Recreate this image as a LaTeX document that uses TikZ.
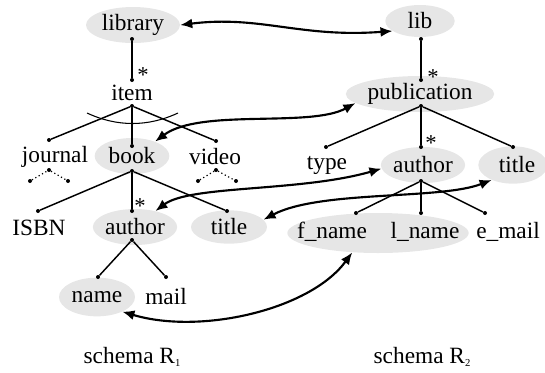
\documentclass[tikz,border=0pt]{standalone}
\usepackage{fontspec}
\setmainfont{Liberation Serif}
\usetikzlibrary{shapes.geometric,arrows.meta}
\definecolor{ovalgray}{RGB}{230,230,230}
\begin{document}
\begin{tikzpicture}[x=0.75pt,y=-0.75pt,
  lbl/.style={font=\fontsize{17.5}{17.5}\selectfont, inner sep=0pt},
  oval/.style={lbl, ellipse, fill=ovalgray},
  star/.style={font=\fontsize{17}{17}\selectfont, inner sep=0pt, anchor=center},
  dot/.style={circle, fill=black, inner sep=0pt, minimum size=3pt},
  tree/.style={line width=1.1pt},
  hint/.style={line width=0.9pt, dotted},
  link/.style={{Latex[length=9pt,width=7.5pt]}-{Latex[length=9pt,width=7.5pt]}, line width=1.6pt}]
\useasboundingbox (0,0) rectangle (545,372);

% ---------- schema R1 ----------
\node[oval, minimum width=70.5pt, minimum height=27pt] (library) at (133,25) {library};
\node[lbl] (item) at (132,93) {item};
\node[lbl] (journal) at (55,157) {journal};
\node[oval, minimum width=56pt, minimum height=27pt] (book) at (132,156) {book};
\node[lbl] (video) at (215,157) {video};
\node[lbl] (isbn) at (39,228) {ISBN};
\node[oval, minimum width=60pt, minimum height=27pt] (authorA) at (135,227) {author};
\node[oval, minimum width=57pt, minimum height=25pt] (titleA) at (229,227) {title};
\node[oval, minimum width=57pt, minimum height=29pt] (name) at (97,297) {name};
\node[lbl] (mail) at (166,297) {mail};
\node[lbl] (schemaA) at (132,357) {schema R\raisebox{-0.35ex}{\fontsize{8}{8}\selectfont 1}};

% ---------- schema R2 ----------
\node[oval, minimum width=52pt, minimum height=24pt] (lib) at (420,21) {lib};
\node[oval, minimum width=100pt, minimum height=27pt] (publication) at (420,94) {publication};
\node[lbl] (type) at (327,165) {type};
\node[oval, minimum width=60pt, minimum height=27pt] (authorB) at (423,165) {author};
\node[oval, minimum width=52pt, minimum height=28pt] (titleB) at (513,165) {\hspace*{6pt}title};
\node[oval, minimum width=136pt, minimum height=30pt] (fl) at (378,233) {};
\node[lbl] (fname) at (332,232) {f\_name};
\node[lbl] (lname) at (425,232) {l\_name};
\node[lbl] (email) at (508,232) {e\_mail};
\node[lbl] (schemaB) at (422,357) {schema R\raisebox{-0.35ex}{\fontsize{8}{8}\selectfont 2}};

% ---------- tree dots R1 ----------
\node[dot] (dLib) at (132,39) {};
\node[dot] (dItemTop) at (132,80) {};
\node[dot] (dItem) at (132,106) {};
\node[dot] (dJournal) at (49,140) {};
\node[dot] (dBookTop) at (132,146) {};
\node[dot] (dVideo) at (216,141) {};
\node[dot] (dBook) at (132,171) {};
\node[dot] (dIsbn) at (38,211) {};
\node[dot] (dAuthorTop) at (132,211) {};
\node[dot] (dTitle) at (227,211) {};
\node[dot] (dAuthor) at (132,240) {};
\node[dot] (dName) at (98,277) {};
\node[dot] (dMail) at (166,277) {};
\node[dot] (j1) at (30,181) {};
\node[dot] (j2) at (49,170) {};
\node[dot] (j3) at (68,181) {};
\node[dot] (v1) at (198,181) {};
\node[dot] (v2) at (216,170) {};
\node[dot] (v3) at (236,181) {};

\draw[tree] (dLib) -- (dItemTop);
\draw[tree] (dItem) -- (dJournal);
\draw[tree] (dItem) -- (dBookTop);
\draw[tree] (dItem) -- (dVideo);
\draw[tree] (dBook) -- (dIsbn);
\draw[tree] (dBook) -- (dAuthorTop);
\draw[tree] (dBook) -- (dTitle);
\draw[tree] (dAuthor) -- (dName);
\draw[tree] (dAuthor) -- (dMail);
\draw[hint] (j1) -- (j2) -- (j3);
\draw[hint] (v1) -- (v2) -- (v3);
% choice arc over the item branches
\coordinate (arcL) at (87,113);
\coordinate (arcR) at (178,113);
\draw[line width=0.8pt] (arcL) .. controls (117,127) and (148,127) .. (arcR);

% multiplicity marks (the asterisk glyph sits about 10px above its baseline)
\node[star] (starA) at (143,82) {\smash{*}};
\node[star] (starB) at (140,213) {\smash{*}};

% ---------- tree dots R2 ----------
\node[dot] (dLibB) at (421,39) {};
\node[dot] (dPubTop) at (421,80) {};
\node[dot] (dPub) at (421,106) {};
\node[dot] (dType) at (326,147) {};
\node[dot] (dAuthorBTop) at (421,147) {};
\node[dot] (dTitleB) at (513,147) {};
\node[dot] (dAuthorB) at (421,181) {};
\node[dot] (dF) at (356,213) {};
\node[dot] (dL) at (421,213) {};
\node[dot] (dE) at (485,213) {};

\draw[tree] (dLibB) -- (dPubTop);
\draw[tree] (dPub) -- (dType);
\draw[tree] (dPub) -- (dAuthorBTop);
\draw[tree] (dPub) -- (dTitleB);
\draw[tree] (dAuthorB) -- (dF);
\draw[tree] (dAuthorB) -- (dL);
\draw[tree] (dAuthorB) -- (dE);

\node[star] (starC) at (433,84) {\smash{*}};
\node[star] (starD) at (431,150) {\smash{*}};

% ---------- correspondences ----------
\draw[link] (library.east) .. controls (260,15) and (300,38) .. (lib.200);
\draw[link] (book.32) .. controls (200,108) and (310,128) .. (publication.188);
\draw[link] (authorA.38) .. controls (190,185) and (300,192) .. (authorB.185);
\draw[link] (titleA.12) .. controls (320,190) and (440,200) .. (titleB.215);
\draw[link] (name.330) .. controls (200,335) and (310,310) .. (fl.217);
\end{tikzpicture}
\end{document}
